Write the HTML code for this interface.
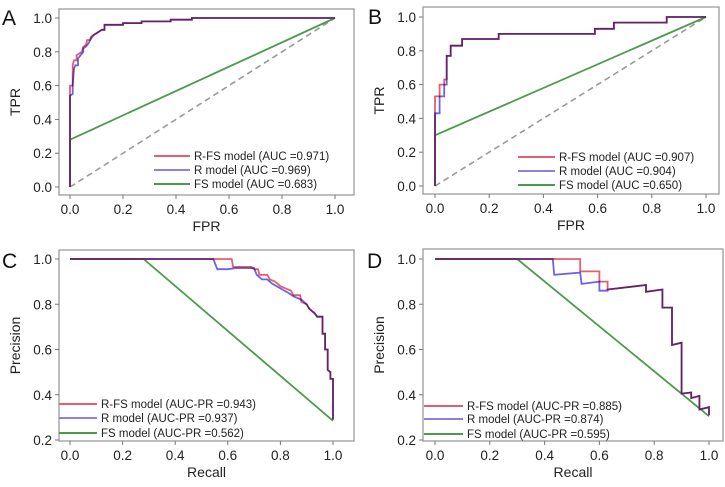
<!DOCTYPE html>
<html><head><meta charset="utf-8"><style>
body{margin:0;background:#fff;}
svg{display:block;font-family:"Liberation Sans",sans-serif;}
</style></head><body>
<svg id="fig" width="725" height="487" viewBox="0 0 725 487" xmlns="http://www.w3.org/2000/svg"></svg>
<script>
// Panel A (ROC, training)
const aRfsX=[0,0,0.01,0.01,0.015,0.025,0.025,0.035,0.045,0.05,0.06,0.065,0.075,0.08,0.09,0.1,0.11,0.12,0.13,0.13,0.2,0.2,0.27,0.27,0.38,0.38,0.46,0.46,1];
const aRfsY=[0,0.6,0.6,0.72,0.75,0.75,0.78,0.79,0.8,0.83,0.84,0.87,0.87,0.89,0.9,0.91,0.92,0.93,0.93,0.96,0.96,0.97,0.97,0.98,0.98,0.99,0.99,1,1];
const aRX=[0,0,0.01,0.01,0.015,0.02,0.03,0.03,0.04,0.05,0.05,0.06,0.07,0.08,0.09,0.1,0.11,0.12,0.13,0.13,0.2,0.2,0.27,0.27,0.38,0.38,0.46,0.46,1];
const aRY=[0,0.54,0.55,0.6,0.7,0.72,0.72,0.76,0.78,0.8,0.82,0.83,0.85,0.88,0.9,0.91,0.92,0.93,0.93,0.96,0.96,0.97,0.97,0.98,0.98,0.99,0.99,1,1];
const aFsX=[0,0,1];
const aFsY=[0,0.28,1];
const aLegend=["R-FS model (AUC =0.971)","R model (AUC =0.969)","FS model (AUC =0.683)"];
// Panel B (ROC, validation)
const bRfsX=[0,0,0.017,0.017,0.034,0.034,0.043,0.043,0.058,0.058,0.1,0.1,0.235,0.235,0.59,0.59,0.66,0.66,0.855,0.855,1];
const bRfsY=[0,0.53,0.53,0.6,0.6,0.63,0.63,0.77,0.77,0.83,0.83,0.87,0.87,0.9,0.9,0.93,0.93,0.967,0.967,1,1];
const bRX=[0,0,0.017,0.017,0.034,0.034,0.043,0.043,0.058,0.058,0.1,0.1,0.235,0.235,0.59,0.59,0.66,0.66,0.855,0.855,1];
const bRY=[0,0.43,0.43,0.53,0.53,0.6,0.6,0.77,0.77,0.83,0.83,0.87,0.87,0.9,0.9,0.93,0.93,0.967,0.967,1,1];
const bFsX=[0,0,1];
const bFsY=[0,0.3,1];
const bLegend=["R-FS model (AUC =0.907)","R model (AUC =0.904)","FS model (AUC =0.650)"];
// Panel C (PR, training)
const cRfsX=[0,0.615,0.62,0.69,0.7,0.715,0.72,0.75,0.76,0.78,0.8,0.82,0.84,0.85,0.875,0.88,0.9,0.91,0.93,0.94,0.96,0.96,0.97,0.97,0.98,0.98,0.99,0.99,1,1];
const cRfsY=[1,1,0.965,0.965,0.955,0.955,0.93,0.93,0.91,0.9,0.88,0.87,0.86,0.84,0.84,0.81,0.8,0.78,0.76,0.745,0.745,0.67,0.67,0.6,0.6,0.51,0.5,0.47,0.47,0.29];
const cRX=[0,0.545,0.56,0.6,0.63,0.7,0.71,0.73,0.75,0.77,0.8,0.83,0.85,0.88,0.9,0.91,0.93,0.94,0.96,0.96,0.97,0.97,0.98,0.98,0.99,0.99,1,1];
const cRY=[1,1,0.955,0.955,0.96,0.96,0.93,0.91,0.91,0.89,0.87,0.85,0.835,0.82,0.8,0.78,0.76,0.745,0.745,0.67,0.67,0.6,0.6,0.51,0.5,0.47,0.47,0.29];
const cFsX=[0,0.28,1];
const cFsY=[1,1,0.285];
const cLegend=["R-FS model (AUC-PR =0.943)","R model (AUC-PR =0.937)","FS model (AUC-PR =0.562)"];
// Panel D (PR, validation)
const dRfsX=[0,0.53,0.53,0.6,0.6,0.63,0.63,0.77,0.77,0.83,0.83,0.865,0.865,0.9,0.9,0.935,0.935,0.965,0.965,1,1];
const dRfsY=[1,1,0.945,0.945,0.9,0.9,0.865,0.885,0.855,0.865,0.785,0.785,0.62,0.63,0.405,0.41,0.385,0.395,0.335,0.345,0.31];
const dRX=[0,0.43,0.435,0.53,0.535,0.6,0.6,0.63,0.63,0.77,0.77,0.83,0.83,0.865,0.865,0.9,0.9,0.935,0.935,0.965,0.965,1,1];
const dRY=[1,1,0.93,0.94,0.89,0.9,0.86,0.86,0.865,0.885,0.855,0.865,0.785,0.785,0.62,0.63,0.405,0.41,0.385,0.395,0.335,0.345,0.31];
const dFsX=[0,0.3,1];
const dFsY=[1,1,0.305];
const dLegend=["R-FS model (AUC-PR =0.885)","R model (AUC-PR =0.874)","FS model (AUC-PR =0.595)"];
const xTicks=["0.0","0.2","0.4","0.6","0.8","1.0"];
const rocYTicks=["0.0","0.2","0.4","0.6","0.8","1.0"];
const prYTicks=["0.2","0.4","0.6","0.8","1.0"];

const NS="http://www.w3.org/2000/svg";
const svg=document.getElementById('fig');
function mk(tag,attrs,parent){const e=document.createElementNS(NS,tag);for(const k in attrs)e.setAttribute(k,attrs[k]);(parent||svg).appendChild(e);return e;}

function panel(p){
  const g=mk('g',{});
  
  
  const sx=v=>p.x0+(p.x1-p.x0)*v;
  const sy=v=>p.yb+(p.yt-p.yb)*(v-p.ymin)/(1-p.ymin);
  const fr=mk('rect',{x:p.fl,y:p.ft,width:p.fr-p.fl,height:p.fb-p.ft,fill:'none',stroke:'#9a9a9a','stroke-width':1.3},g);
  
  
  const lab=mk('text',{x:p.lx,y:p.ly,'font-size':21,fill:'#111'},g);lab.textContent=p.id;
  
  
  xTicks.forEach(t=>{const v=parseFloat(t);
    mk('line',{x1:sx(v),x2:sx(v),y1:p.fb,y2:p.fb+4,stroke:'#777'},g);
    const tx=mk('text',{x:sx(v),y:p.fb+19,'font-size':13.5,'text-anchor':'middle',fill:'#222'},g);tx.textContent=t;
    
    });
  p.yticks.forEach(t=>{const v=parseFloat(t);
    mk('line',{x1:p.fl-4,x2:p.fl,y1:sy(v),y2:sy(v),stroke:'#777'},g);
    const ty=mk('text',{x:p.fl-7,y:sy(v)+5,'font-size':13.5,'text-anchor':'end',fill:'#222'},g);ty.textContent=t;
    
    });
  const xt=mk('text',{x:(p.fl+p.fr)/2,y:p.fb+36,'font-size':14,'text-anchor':'middle',fill:'#222'},g);xt.textContent=p.xlab;
  
  
  const yc=(p.ft+p.fb)/2;
  const yt=mk('text',{x:p.fl-39,y:yc,'font-size':14,'text-anchor':'middle',fill:'#222',transform:`rotate(-90 ${p.fl-39} ${yc})`},g);yt.textContent=p.ylab;
  
  
  if(p.diag){const d=mk('line',{x1:sx(0),y1:sy(0),x2:sx(1),y2:sy(1),stroke:'#999','stroke-width':1.6,'stroke-dasharray':'6,4'},g);
    
    }
  const pts=(X,Y)=>X.map((x,i)=>sx(x).toFixed(1)+','+sy(Y[i]).toFixed(1)).join(' ');
  const series=[[p.fsX,p.fsY,'#4c9a4c','fs-model-curve'],[p.rfsX,p.rfsY,'#e06070','r-fs-model-curve'],[p.rX,p.rY,'#7060e8','r-model-curve']];
  series.forEach(s=>{const l=mk('polyline',{points:pts(s[0],s[1]),fill:'none',stroke:s[2],'stroke-width':1.8,'stroke-linejoin':'miter'},g);
    if(s[3]==='r-model-curve')l.setAttribute('style','mix-blend-mode:multiply');
    
    });
  const cols=['#e06070','#8f80e0','#4c9a4c'];
  p.legend.forEach((t,i)=>{const y=p.legY[i];
    const ll=mk('line',{x1:p.legX1,x2:p.legX2,y1:y,y2:y,stroke:cols[i],'stroke-width':2},g);
    
    
    const tt=mk('text',{x:p.legX2+4,y:y+4,'font-size':11.5,fill:'#222'},g);tt.textContent=t;
    
    });
}
panel({id:'A',fl:59,fr:354,ft:9,fb:195,x0:70,x1:335,yb:187,yt:18,ymin:0,lx:2,ly:25,yticks:rocYTicks,xlab:'FPR',ylab:'TPR',diag:true,
  rfsX:aRfsX,rfsY:aRfsY,rX:aRX,rY:aRY,fsX:aFsX,fsY:aFsY,legend:aLegend,legX1:154,legX2:190,legY:[156,170,184]});
panel({id:'B',fl:423,fr:719,ft:7,fb:194,x0:435,x1:706,yb:186,yt:17,ymin:0,lx:368,ly:24,yticks:rocYTicks,xlab:'FPR',ylab:'TPR',diag:true,
  rfsX:bRfsX,rfsY:bRfsY,rX:bRX,rY:bRY,fsX:bFsX,fsY:bFsY,legend:bLegend,legX1:518,legX2:555,legY:[157,171,185]});
panel({id:'C',fl:59,fr:354,ft:250,fb:441,x0:70,x1:333,yb:440,yt:259,ymin:0.2,lx:2,ly:268,yticks:prYTicks,xlab:'Recall',ylab:'Precision',diag:false,
  rfsX:cRfsX,rfsY:cRfsY,rX:cRX,rY:cRY,fsX:cFsX,fsY:cFsY,legend:cLegend,legX1:59,legX2:97,legY:[404,418,433]});
panel({id:'D',fl:423,fr:723,ft:249,fb:441,x0:435,x1:709,yb:440,yt:259,ymin:0.2,lx:367,ly:268,yticks:prYTicks,xlab:'Recall',ylab:'Precision',diag:false,
  rfsX:dRfsX,rfsY:dRfsY,rX:dRX,rY:dRY,fsX:dFsX,fsY:dFsY,legend:dLegend,legX1:424,legX2:463,legY:[406,419,434]});
</script>
</body></html>
